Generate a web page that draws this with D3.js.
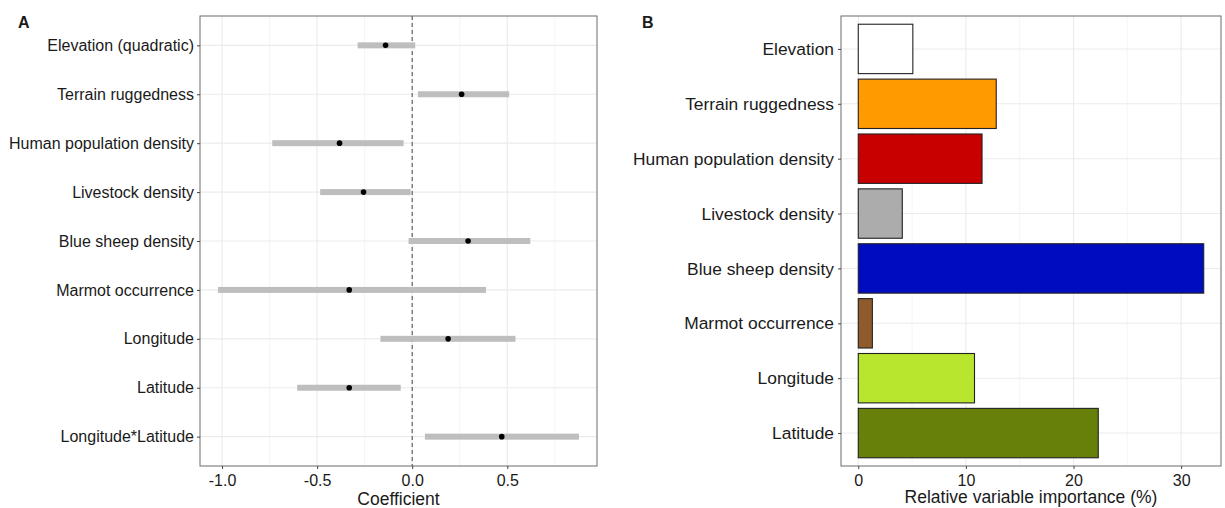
<!DOCTYPE html>
<html>
<head>
<meta charset="utf-8">
<script src="https://cdn.jsdelivr.net/npm/d3@7"></script>
<style>
    body { margin: 0; background: #fff; }
    text { font-family: "Liberation Sans", Arial, sans-serif; }
</style>
</head>
<body>
<script>
const width = 1225;
const height = 508;

// Panel A: coefficients with 95% intervals
const coefTerms = [
    "Elevation (quadratic)",
    "Terrain ruggedness",
    "Human population density",
    "Livestock density",
    "Blue sheep density",
    "Marmot occurrence",
    "Longitude",
    "Latitude",
    "Longitude*Latitude",
];
const coefEstimate = [-0.14, 0.26, -0.382, -0.256, 0.294, -0.331, 0.189, -0.331, 0.471];
const coefLower = [-0.287, 0.03, -0.736, -0.484, -0.019, -1.021, -0.167, -0.605, 0.067];
const coefUpper = [0.016, 0.51, -0.045, -0.008, 0.621, 0.388, 0.543, -0.06, 0.877];
const coefTicks = [-1.0, -0.5, 0.0, 0.5];

// Panel B: relative variable importance
const rviVars = [
    "Elevation",
    "Terrain ruggedness",
    "Human population density",
    "Livestock density",
    "Blue sheep density",
    "Marmot occurrence",
    "Longitude",
    "Latitude",
];
const rviValues = [5.07, 12.82, 11.5, 4.09, 32.1, 1.31, 10.8, 22.3];
const rviColours = ["#ffffff", "#ff9a00", "#c80000", "#acacac", "#000cbf", "#8f5a2c", "#b8e62e", "#66800a"];
const rviTicks = [0, 10, 20, 30];

const svg = d3
    .select("body")
    .append("svg")
    .attr("width", width)
    .attr("height", height);

const textCol = "#1a1a1a";
const gridCol = "#ebebeb";
const borderCol = "#6b6b6b";

// expand a [min, max] range by 5% each side like ggplot
function expand(lo, hi) {
    const d = (hi - lo) * 0.05;
    return [lo - d, hi + d];
}

/////////////////////////////
//// Panel A ////////////////
/////////////////////////////
const pA = { left: 200, right: 597, top: 16, bottom: 466 };

const xA = d3
    .scaleLinear()
    .domain(expand(d3.min(coefLower), d3.max(coefUpper)))
    .range([pA.left, pA.right]);

const yA = d3
    .scalePoint()
    .domain(coefTerms)
    .range([pA.top, pA.bottom])
    .padding(0.6);

const gA = svg.append("g");

// minor grid
const minorA = d3.range(-1.25, 1.0, 0.5).filter((v) => xA(v) > pA.left && xA(v) < pA.right);
gA.selectAll(".minorA")
    .data(minorA)
    .enter()
    .append("line")
    .attr("x1", (d) => xA(d))
    .attr("x2", (d) => xA(d))
    .attr("y1", pA.top)
    .attr("y2", pA.bottom)
    .attr("stroke", "#f3f3f3")
    .attr("stroke-width", 0.8);

gA.selectAll(".majorAx")
    .data(coefTicks)
    .enter()
    .append("line")
    .attr("x1", (d) => xA(d))
    .attr("x2", (d) => xA(d))
    .attr("y1", pA.top)
    .attr("y2", pA.bottom)
    .attr("stroke", gridCol)
    .attr("stroke-width", 1.1);

gA.selectAll(".majorAy")
    .data(coefTerms)
    .enter()
    .append("line")
    .attr("x1", pA.left)
    .attr("x2", pA.right)
    .attr("y1", (d) => yA(d))
    .attr("y2", (d) => yA(d))
    .attr("stroke", gridCol)
    .attr("stroke-width", 1.1);

// zero reference line
gA.append("line")
    .attr("x1", xA(0))
    .attr("x2", xA(0))
    .attr("y1", pA.top)
    .attr("y2", pA.bottom)
    .attr("stroke", "#555")
    .attr("stroke-width", 1.1)
    .attr("stroke-dasharray", "4,3");

// interval bars
gA.selectAll(".ci")
    .data(coefTerms)
    .enter()
    .append("rect")
    .attr("x", (d, i) => xA(coefLower[i]))
    .attr("width", (d, i) => xA(coefUpper[i]) - xA(coefLower[i]))
    .attr("y", (d) => yA(d) - 3)
    .attr("height", 6)
    .attr("fill", "#bebebe");

gA.selectAll(".est")
    .data(coefTerms)
    .enter()
    .append("circle")
    .attr("cx", (d, i) => xA(coefEstimate[i]))
    .attr("cy", (d) => yA(d))
    .attr("r", 2.8)
    .attr("fill", "#000");

gA.append("rect")
    .attr("x", pA.left)
    .attr("y", pA.top)
    .attr("width", pA.right - pA.left)
    .attr("height", pA.bottom - pA.top)
    .attr("fill", "none")
    .attr("stroke", borderCol)
    .attr("stroke-width", 1);

// axes
const axAy = gA
    .append("g")
    .attr("transform", `translate(${pA.left},0)`)
    .call(d3.axisLeft(yA).tickSize(3).tickPadding(3));
const axAx = gA
    .append("g")
    .attr("transform", `translate(0,${pA.bottom})`)
    .call(d3.axisBottom(xA).tickValues(coefTicks).tickFormat((d) => d.toFixed(1)).tickSize(3).tickPadding(6));

[axAy, axAx].forEach((ax) => {
    ax.select(".domain").remove();
    ax.selectAll(".tick line").attr("stroke", "#444");
    ax.selectAll(".tick text").attr("fill", textCol).style("font-size", "16px").style("font-family", "Liberation Sans, Arial, sans-serif");
});

gA.append("text")
    .text("Coefficient")
    .attr("x", (pA.left + pA.right) / 2)
    .attr("y", 505)
    .attr("text-anchor", "middle")
    .attr("fill", textCol)
    .attr("font-size", "17.5px");

gA.append("text")
    .text("A")
    .attr("x", 18)
    .attr("y", 28)
    .attr("font-weight", "bold")
    .attr("fill", textCol)
    .attr("font-size", "16px");

/////////////////////////////
//// Panel B ////////////////
/////////////////////////////
const pB = { left: 841, right: 1221, top: 16, bottom: 466 };

const xB = d3
    .scaleLinear()
    .domain(expand(0, d3.max(rviValues)))
    .range([pB.left, pB.right]);

const yB = d3
    .scalePoint()
    .domain(rviVars)
    .range([pB.top, pB.bottom])
    .padding(0.6);
const barH = yB.step() * 0.9;

const gB = svg.append("g");

gB.selectAll(".minorB")
    .data([5, 15, 25])
    .enter()
    .append("line")
    .attr("x1", (d) => xB(d))
    .attr("x2", (d) => xB(d))
    .attr("y1", pB.top)
    .attr("y2", pB.bottom)
    .attr("stroke", "#f3f3f3")
    .attr("stroke-width", 0.8);

gB.selectAll(".majorBx")
    .data(rviTicks)
    .enter()
    .append("line")
    .attr("x1", (d) => xB(d))
    .attr("x2", (d) => xB(d))
    .attr("y1", pB.top)
    .attr("y2", pB.bottom)
    .attr("stroke", gridCol)
    .attr("stroke-width", 1.1);

gB.selectAll(".majorBy")
    .data(rviVars)
    .enter()
    .append("line")
    .attr("x1", pB.left)
    .attr("x2", pB.right)
    .attr("y1", (d) => yB(d))
    .attr("y2", (d) => yB(d))
    .attr("stroke", gridCol)
    .attr("stroke-width", 1.1);

gB.selectAll(".bar")
    .data(rviVars)
    .enter()
    .append("rect")
    .attr("x", xB(0))
    .attr("y", (d) => yB(d) - barH / 2)
    .attr("width", (d, i) => xB(rviValues[i]) - xB(0))
    .attr("height", barH)
    .attr("fill", (d, i) => rviColours[i])
    .attr("stroke", "#222")
    .attr("stroke-width", 1.1);

gB.append("rect")
    .attr("x", pB.left)
    .attr("y", pB.top)
    .attr("width", pB.right - pB.left)
    .attr("height", pB.bottom - pB.top)
    .attr("fill", "none")
    .attr("stroke", borderCol)
    .attr("stroke-width", 1);

const axBy = gB
    .append("g")
    .attr("transform", `translate(${pB.left},0)`)
    .call(d3.axisLeft(yB).tickSize(3).tickPadding(4));
const axBx = gB
    .append("g")
    .attr("transform", `translate(0,${pB.bottom})`)
    .call(d3.axisBottom(xB).tickValues(rviTicks).tickSize(3).tickPadding(6));

axBy.select(".domain").remove();
axBx.select(".domain").remove();
axBy.selectAll(".tick line").attr("stroke", "#444");
axBx.selectAll(".tick line").attr("stroke", "#444");
axBy.selectAll(".tick text").attr("fill", textCol).style("font-size", "17.4px").style("font-family", "Liberation Sans, Arial, sans-serif");
axBx.selectAll(".tick text").attr("fill", textCol).style("font-size", "16px").style("font-family", "Liberation Sans, Arial, sans-serif");

gB.append("text")
    .text("Relative variable importance (%)")
    .attr("x", (pB.left + pB.right) / 2)
    .attr("y", 503)
    .attr("text-anchor", "middle")
    .attr("fill", textCol)
    .attr("font-size", "17.5px");

gB.append("text")
    .text("B")
    .attr("x", 642)
    .attr("y", 28)
    .attr("font-weight", "bold")
    .attr("fill", textCol)
    .attr("font-size", "16px");
</script>
</body>
</html>
